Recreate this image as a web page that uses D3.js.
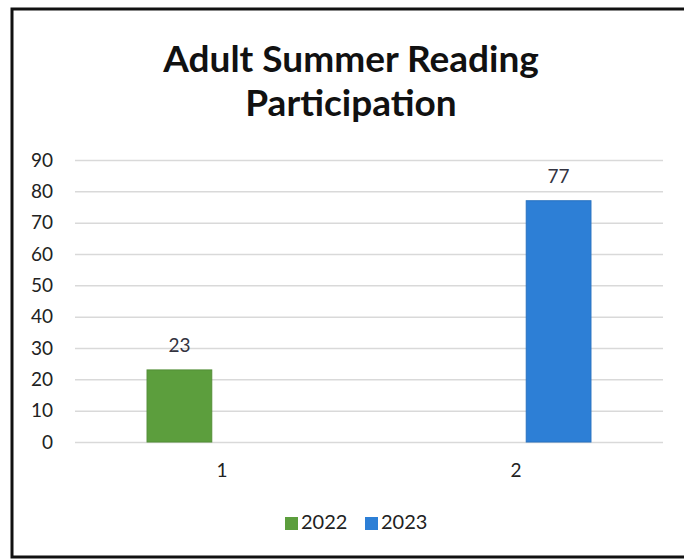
<!DOCTYPE html>
<html>
<head>
<meta charset="utf-8">
<script src="https://cdn.jsdelivr.net/npm/d3@7"></script>
<style>
  html, body { margin: 0; padding: 0; background: #fff; }
  svg { display: block; }
</style>
</head>
<body>
<div id="chart"></div>
<script>
// Adult summer reading participation by year
const categories = ["1", "2"];
const seriesNames = ["2022", "2023"];
const values2022 = [23, null];
const values2023 = [null, 77];
const yTicks = [0, 10, 20, 30, 40, 50, 60, 70, 80, 90];
const titleLines = ["Adult Summer Reading", "Participation"];
const colors = ["#5c9e3d", "#2d7fd6"];

const W = 684, H = 560;
const font = "Lato, 'Open Sans', sans-serif";

const svg = d3.select("#chart").append("svg")
  .attr("width", W).attr("height", H);

// chart frame
svg.append("rect").attr("x", 0).attr("y", 0).attr("width", W).attr("height", H).attr("fill", "#fff");
svg.append("path")
  .attr("d", "M 700 9 L 12 9 L 12 557 L 700 557")
  .attr("fill", "none").attr("stroke", "#111").attr("stroke-width", 3);

// title
const title = svg.append("text")
  .attr("x", 351).attr("text-anchor", "middle")
  .attr("font-family", font).attr("font-weight", "bold")
  .attr("font-size", 37).attr("fill", "#111");
titleLines.forEach((t, i) => {
  title.append("tspan").attr("x", 351).attr("y", 72 + i * 44).text(t);
});

const plot = { left: 75, right: 663, top: 160, bottom: 442 };

const y = d3.scaleLinear().domain([0, 90]).range([plot.bottom, plot.top]);
const x0 = d3.scaleBand().domain(categories).range([plot.left, plot.right])
  .paddingInner(0.49).paddingOuter(0.245);
const x1 = d3.scaleBand().domain(seriesNames).range([0, x0.bandwidth()])
  .paddingInner(0.24);

// gridlines
svg.append("g")
  .attr("transform", `translate(${plot.left},0)`)
  .call(d3.axisLeft(y).tickValues(yTicks).tickSize(-(plot.right - plot.left)).tickFormat(""))
  .call(g => g.select(".domain").remove())
  .call(g => g.selectAll("line").attr("stroke", "#d9d9d9").attr("stroke-width", 1.5));

// y tick labels
svg.append("g")
  .attr("transform", `translate(53,0)`)
  .call(d3.axisLeft(y).tickValues(yTicks).tickSize(0).tickPadding(0))
  .call(g => g.select(".domain").remove())
  .call(g => g.selectAll("text").attr("font-family", font).attr("font-size", 19)
    .attr("fill", "#222").attr("text-anchor", "end"));

// x category labels
svg.append("g")
  .attr("transform", `translate(0,${plot.bottom})`)
  .call(d3.axisBottom(x0).tickSize(0).tickPadding(22))
  .call(g => g.select(".domain").remove())
  .call(g => g.selectAll("text").attr("font-family", font).attr("font-size", 19).attr("fill", "#222"));

// bars
const series = [values2022, values2023];
const barData = [];
categories.forEach((c, ci) => {
  seriesNames.forEach((s, si) => {
    const v = series[si][ci];
    if (v != null) barData.push({ c, s, si, v });
  });
});

const bars = svg.append("g");
bars.selectAll("rect").data(barData).enter().append("rect")
  .attr("x", d => x0(d.c) + x1(d.s))
  .attr("y", d => y(d.v))
  .attr("width", x1.bandwidth())
  .attr("height", d => y(0) - y(d.v))
  .attr("fill", d => colors[d.si])
  .attr("stroke", d => d3.color(colors[d.si]).darker(0.3))
  .attr("stroke-width", 1);

bars.selectAll("text").data(barData).enter().append("text")
  .attr("x", d => x0(d.c) + x1(d.s) + x1.bandwidth() / 2)
  .attr("y", d => y(d.v) - 18)
  .attr("text-anchor", "middle")
  .attr("font-family", font).attr("font-size", 19).attr("fill", "#333340")
  .text(d => d.v);

// legend
const legend = svg.append("g").attr("transform", "translate(285,529)");
const legendX = [0, 80];
seriesNames.forEach((s, i) => {
  const g = legend.append("g").attr("transform", `translate(${legendX[i]},0)`);
  g.append("rect").attr("x", 0).attr("y", -12).attr("width", 13).attr("height", 13)
    .attr("fill", colors[i]);
  g.append("text").attr("x", 16).attr("y", 0)
    .attr("font-family", font).attr("font-size", 20).attr("fill", "#222").text(s);
});
</script>
</body>
</html>
